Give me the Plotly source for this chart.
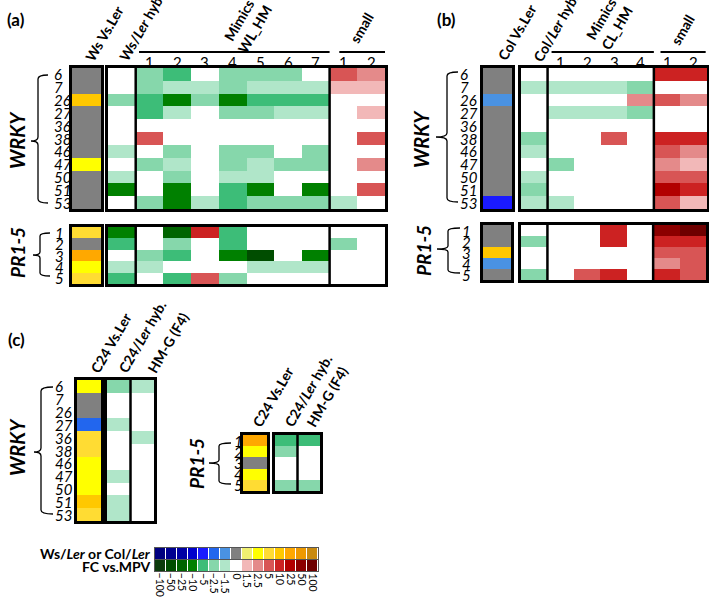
import plotly.graph_objects as go

W, H = 709, 598

# ---------------- data ----------------
SCALE_TICKS = [-100, -50, -25, -10, -5, -2.5, -1.5, 0, 1.5, 2.5, 5, 10, 25, 50, 100]
SCALE_LABELS = ["\u2212100", "\u221250", "\u221225", "\u221210", "\u22125", "\u22122.5", "\u22121.5",
                "0", "1.5", "2.5", "5", "10", "25", "50", "100"]
PARENT_COLORS = ["#000080", "#000090", "#0000a4", "#0000cc", "#1a1aff", "#2266ee", "#4a92e2",
                 "#808080", "#f0f070", "#ffff00", "#ffdc33", "#ffc800", "#ffa800", "#ee9900", "#c88a10"]
FC_COLORS = ["#0b3b0b", "#004d00", "#006400", "#008000", "#3dbd78", "#86d7ab", "#b0e6c9",
             "#ffffff", "#f2b8b8", "#e48a8a", "#d85555", "#cc2222", "#b20000", "#8c0000", "#6e0000"]

WRKY_ROWS = ["6", "7", "26", "27", "36", "38", "46", "47", "50", "51", "53"]
PR_ROWS = ["1", "2", "3", "4", "5"]

# panel (a): Ws vs Ler, then columns: hyb, mimics 1-7, small 1-2
a_ws_wrky = [0, 0, 10, 0, 0, 0, 0, 2.5, 0, 0, 0]
a_ws_pr = [5, 0, 25, 2.5, 5]
a_fc_wrky = [
    [0, -2.5, -5, 0, -2.5, -2.5, -2.5, 0, 5, 2.5],
    [0, -2.5, -1.5, -1.5, -2.5, -1.5, -1.5, -1.5, 1.5, 1.5],
    [-2.5, -5, -10, -2.5, -10, -5, -5, -5, 0, 0],
    [0, -5, -1.5, 0, -2.5, -2.5, -1.5, -1.5, 0, 1.5],
    [0, 0, 0, 0, 0, 0, 0, 0, 0, 0],
    [0, 5, 0, 0, 0, 0, 0, 0, 0, 5],
    [-1.5, 0, -2.5, 0, -2.5, -2.5, 0, -2.5, 0, 0],
    [0, -2.5, -1.5, 0, -2.5, -1.5, -2.5, -2.5, 0, 2.5],
    [-1.5, 0, -2.5, 0, -1.5, -1.5, 0, 0, 0, 0],
    [-10, 0, -10, 0, -5, -10, 0, -10, 0, 5],
    [0, -2.5, -10, -1.5, -5, -2.5, -2.5, -2.5, -1.5, 0],
]
a_fc_pr = [
    [-10, 0, -25, 10, -5, 0, 0, 0, 0, 0],
    [-5, 0, -2.5, 0, -5, 0, 0, 0, -2.5, 0],
    [0, -2.5, -5, 0, -10, -50, 0, -10, 0, 0],
    [-1.5, -1.5, 0, 0, 0, -1.5, -1.5, -1.5, 0, 0],
    [-5, 0, -5, 5, -2.5, 0, 0, 0, 0, 0],
]

# panel (b): Col vs Ler, then columns: hyb, mimics 1-4, small 1-2
b_col_wrky = [0, 0, -1.5, 0, 0, 0, 0, 0, 0, 0, -5]
b_col_pr = [0, 0, 10, -1.5, 0]
b_fc_wrky = [
    [0, 0, 0, 0, 0, 10, 10],
    [-1.5, -1.5, -1.5, -1.5, -2.5, 0, 0],
    [0, 0, 0, 0, 2.5, 5, 2.5],
    [0, -1.5, -1.5, -1.5, -2.5, 0, 0],
    [0, 0, 0, 0, 0, 0, 0],
    [-2.5, 0, 0, 5, 0, 10, 10],
    [-1.5, 0, 0, 0, 0, 5, 2.5],
    [0, -2.5, 0, 0, 0, 2.5, 1.5],
    [-1.5, 0, 0, 0, 0, 5, 5],
    [-2.5, 0, 0, 0, 0, 25, 10],
    [-1.5, -1.5, 0, 0, 0, 5, 1.5],
]
b_fc_pr = [
    [0, 0, 0, 10, 0, 50, 100],
    [-2.5, 0, 0, 10, 0, 10, 10],
    [0, 0, 0, 0, 0, 5, 5],
    [0, 0, 0, 0, 0, 2.5, 5],
    [-2.5, 0, 5, 10, 0, 10, 5],
]

# panel (c): C24 vs Ler, C24/Ler hyb., HM-G (F4)
c_c24_wrky = [2.5, 0, 0, -2.5, 5, 5, 2.5, 2.5, 2.5, 10, 5]
c_hyb_wrky = [-2.5, 0, 0, -1.5, 0, 0, 0, -1.5, 0, -1.5, -1.5]
c_hmg_wrky = [-1.5, 0, 0, 0, -1.5, 0, 0, 0, 0, 0, 0]
c_c24_pr = [25, 2.5, 0, 2.5, 5]
c_hyb_pr = [-5, -2.5, 0, 0, -2.5]
c_hmg_pr = [-5, 0, 0, 0, -2.5]

# ---------------- helpers ----------------
IDX = {v: i for i, v in enumerate(SCALE_TICKS)}


def px(x):
    return x / W


def py(y):
    return 1 - y / H


def stepped(colors):
    n = len(colors)
    cs = []
    for i, c in enumerate(colors):
        cs.append([i / n, c])
        cs.append([(i + 1) / n, c])
    return cs


def to_z(rows):
    return [[IDX[v] for v in r] for r in rows]


def col(values):
    return [[v] for v in values]


def cols(*lists):
    return [list(r) for r in zip(*lists)]


FONT = "Lato, 'Open Sans', sans-serif"
fig = go.Figure()
annotations = []
shapes = []

blocks = [
    ("A1", (72, 68, 101, 209), col(a_ws_wrky), PARENT_COLORS),
    ("A2", (108, 68, 385, 209), a_fc_wrky, FC_COLORS),
    ("A3", (72, 227, 101, 284), col(a_ws_pr), PARENT_COLORS),
    ("A4", (108, 227, 385, 284), a_fc_pr, FC_COLORS),
    ("B1", (483, 68, 512, 209), col(b_col_wrky), PARENT_COLORS),
    ("B2", (521, 68, 707, 209), b_fc_wrky, FC_COLORS),
    ("B3", (483, 225, 511, 280), col(b_col_pr), PARENT_COLORS),
    ("B4", (521, 225, 706, 280), b_fc_pr, FC_COLORS),
    ("C1", (77, 380, 101, 521), col(c_c24_wrky), PARENT_COLORS),
    ("C2", (107, 380, 154, 521), cols(c_hyb_wrky, c_hmg_wrky), FC_COLORS),
    ("C3", (243, 435, 267, 491), col(c_c24_pr), PARENT_COLORS),
    ("C4", (275, 435, 320, 491), cols(c_hyb_pr, c_hmg_pr), FC_COLORS),
    ("L1", (155, 548, 318, 559), [SCALE_TICKS], PARENT_COLORS),
    ("L2", (155, 560, 318, 571), [SCALE_TICKS], FC_COLORS),
]

axis_of = {}
layout_axes = {}
for k, (name, (x0, y0, x1, y1), rows, pal) in enumerate(blocks, start=1):
    axis_of[name] = k
    nrow, ncol = len(rows), len(rows[0])
    xa = "x" if k == 1 else f"x{k}"
    ya = "y" if k == 1 else f"y{k}"
    is_leg = name.startswith("L")
    fig.add_trace(go.Heatmap(
        z=to_z(rows), x=list(range(ncol)), y=list(range(nrow)),
        colorscale=stepped(pal), zmin=-0.5, zmax=len(pal) - 0.5,
        showscale=False, hoverinfo="skip", xaxis=xa, yaxis=ya,
        xgap=1 if is_leg else 0,
    ))
    lc = "#555555" if is_leg else "black"
    lw = 1 if is_leg else 2.5
    layout_axes["xaxis" if k == 1 else f"xaxis{k}"] = dict(
        domain=[px(x0), px(x1)], range=[-0.5, ncol - 0.5], anchor=ya,
        showticklabels=False, ticks="", showgrid=False, zeroline=False,
        showline=True, mirror=True, linecolor=lc, linewidth=lw, fixedrange=True)
    layout_axes["yaxis" if k == 1 else f"yaxis{k}"] = dict(
        domain=[py(y1), py(y0)], range=[nrow - 0.5, -0.5], anchor=xa,
        showticklabels=False, ticks="", showgrid=False, zeroline=False,
        showline=True, mirror=True, linecolor=lc, linewidth=lw, fixedrange=True)


def xr(name):
    k = axis_of[name]
    return "x" if k == 1 else f"x{k}"


def yr(name):
    k = axis_of[name]
    return "y" if k == 1 else f"y{k}"


for name, xs in [("A2", [0.5, 7.5]), ("A4", [0.5, 7.5]), ("B2", [0.5, 4.5]), ("B4", [0.5, 4.5]),
                 ("C2", [0.5]), ("C4", [0.5])]:
    for xv in xs:
        shapes.append(dict(type="line", xref=xr(name), yref=yr(name) + " domain",
                           x0=xv, x1=xv, y0=0, y1=1, line=dict(color="black", width=2.5)))

for name, a, b in [("A2", 0.62, 7.5), ("A2", 7.85, 9.5), ("B2", 0.65, 4.5), ("B2", 4.75, 6.45)]:
    shapes.append(dict(type="line", xref=xr(name), yref="paper", x0=a, x1=b,
                       y0=py(52), y1=py(52), line=dict(color="black", width=2)))

for name, labels in [("A2", ["1", "2", "3", "4", "5", "6", "7", "1", "2"]),
                     ("B2", ["1", "2", "3", "4", "1", "2"])]:
    for i, t in enumerate(labels, start=1):
        annotations.append(dict(text=t, xref=xr(name), yref="paper", x=i, y=py(62),
                                showarrow=False, xanchor="center", yanchor="middle",
                                font=dict(size=15, color="black", family=FONT)))

for name, labels, xl in [("A1", WRKY_ROWS, 52), ("A3", PR_ROWS, 53), ("B1", WRKY_ROWS, 458),
                         ("B3", PR_ROWS, 460), ("C1", WRKY_ROWS, 53), ("C3", PR_ROWS, 232)]:
    for i, t in enumerate(labels):
        annotations.append(dict(text=f"<i>{t}</i>", xref="paper", yref=yr(name), x=px(xl), y=i,
                                showarrow=False, xanchor="left", yanchor="middle",
                                font=dict(size=15, color="black", family=FONT)))

col_titles = [
    ("Ws Vs.Ler", 79, 67), ("Ws/<i>Ler</i> hyb.", 113, 67),
    ("Col Vs.Ler", 491, 66), ("Col/<i>Ler</i> hyb.", 527, 67),
    ("C24 Vs.Ler", 84, 378), ("C24/<i>Ler</i> hyb.", 112, 378), ("HM-G (F4)", 141, 378),
    ("C24 Vs.Ler", 246, 432), ("C24/<i>Ler</i> hyb.", 278, 432), ("HM-G (F4)", 300, 432),
]
for t, x, y in col_titles:
    annotations.append(dict(text=f"<b>{t}</b>", xref="paper", yref="paper", x=px(x), y=py(y),
                            showarrow=False, xanchor="left", yanchor="bottom", textangle=-60,
                            font=dict(size=14, color="black", family=FONT)))

for t, x, y in [("Mimics<br>WL_HM", 247, 25), ("small", 362, 28),
                ("Mimics<br>CL_HM", 609, 24), ("small", 683, 30)]:
    annotations.append(dict(text=f"<b>{t}</b>", xref="paper", yref="paper", x=px(x), y=py(y),
                            showarrow=False, xanchor="center", yanchor="middle", textangle=-60,
                            font=dict(size=14, color="black", family=FONT)))

for t, x, y, s in [("WRKY", 17, 140, 20), ("PR1-5", 17, 253, 19), ("WRKY", 421, 139, 20),
                   ("PR1-5", 424, 250, 19), ("WRKY", 17, 447, 20), ("PR1-5", 196, 464, 19)]:
    annotations.append(dict(text=f"<b><i>{t}</i></b>", xref="paper", yref="paper", x=px(x), y=py(y),
                            showarrow=False, xanchor="center", yanchor="middle", textangle=-90,
                            font=dict(size=s, color="black", family=FONT)))

for t, x, y in [("(a)", 16, 20), ("(b)", 446, 20), ("(c)", 16, 339)]:
    annotations.append(dict(text=f"<b>{t}</b>", xref="paper", yref="paper", x=px(x), y=py(y),
                            showarrow=False, xanchor="center", yanchor="middle",
                            font=dict(size=17, color="black", family=FONT)))


def brace(xh, xs, xt, yt, ym, yb, r=4):
    pts = [
        ("M", [(xh, yt)]),
        ("Q", [(xs, yt), (xs, yt + r)]),
        ("L", [(xs, ym - r)]),
        ("Q", [(xs, ym), (xt, ym)]),
        ("Q", [(xs, ym), (xs, ym + r)]),
        ("L", [(xs, yb - r)]),
        ("Q", [(xs, yb), (xh, yb)]),
    ]
    s = ""
    for cmd, ps in pts:
        s += cmd + " " + " ".join(f"{px(a):.5f},{py(b):.5f}" for a, b in ps) + " "
    return dict(type="path", xref="paper", yref="paper", path=s.strip(),
                line=dict(color="black", width=1.3))


shapes += [
    brace(48, 38, 31, 75, 141, 203),
    brace(50, 40, 33, 233, 255, 276, r=3),
    brace(458, 447, 436, 72, 137, 202),
    brace(460, 448, 437, 228, 249, 273, r=3),
    brace(53, 41, 34, 387, 452, 514),
    brace(231, 219, 209, 443, 463, 484, r=3),
]

annotations.append(dict(text="<b>Ws/<i>Ler</i> or Col/<i>Ler</i></b>", xref="paper", yref="paper",
                        x=px(153), y=py(553), showarrow=False, xanchor="right", yanchor="middle",
                        font=dict(size=14, color="black", family=FONT)))
annotations.append(dict(text="<b>FC vs.MPV</b>", xref="paper", yref="paper",
                        x=px(153), y=py(566), showarrow=False, xanchor="right", yanchor="middle",
                        font=dict(size=14, color="black", family=FONT)))
for i, t in enumerate(SCALE_LABELS):
    annotations.append(dict(text=t, xref=xr("L2"), yref="paper", x=i, y=py(571),
                            showarrow=False, xanchor="center", yanchor="top", textangle=90,
                            font=dict(size=10.5, color="black", family=FONT)))

fig.update_layout(
    width=W, height=H, margin=dict(l=0, r=0, t=0, b=0),
    paper_bgcolor="white", plot_bgcolor="white",
    annotations=annotations, shapes=shapes, showlegend=False,
    **layout_axes,
)

fig.write_html("out.html", config={"displayModeBar": False},
               post_script="document.body.style.margin='0px';document.body.style.overflow='hidden';")
